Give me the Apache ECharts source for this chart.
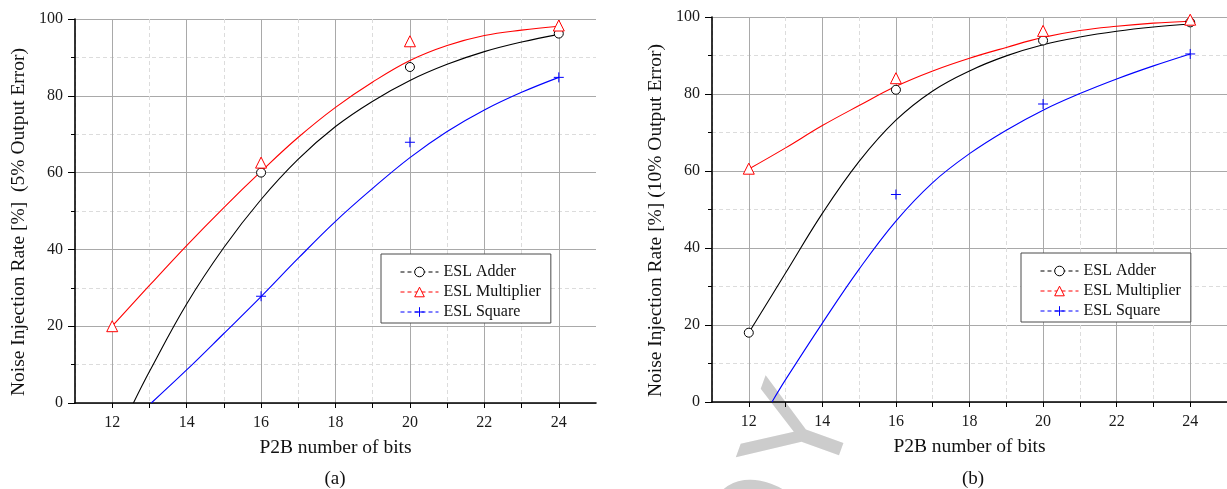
<!DOCTYPE html>
<html>
<head>
<meta charset="utf-8">
<script src="https://cdn.jsdelivr.net/npm/echarts@6/dist/echarts.min.js"></script>
<style>
  html, body { margin: 0; padding: 0; background: #ffffff; }
  #chart { width: 1227px; height: 489px; }
</style>
</head>
<body>
<div id="chart"></div>
<script>
// ---- axis ticks ----
const xTickLabels = [12, 14, 16, 18, 20, 22, 24];

// ---- (a) 5% output error: measured points ----
const adder5Bits = [16, 20, 24];
const adder5Rate = [60, 87.5, 96.2];
const mult5Bits = [12, 16, 20, 24];
const mult5Rate = [20, 62.6, 94.2, 98.3];
const square5Bits = [16, 20, 24];
const square5Rate = [27.8, 67.9, 84.8];

// ---- (a) fitted trend curves [bits, rate] ----
const adder5Fit = [[12.57, 0], [13, 8.2], [14, 25.8], [15, 40.5], [16, 53], [17, 63.5], [18, 72], [19, 78.6], [20, 84], [21, 88.2], [22, 91.5], [23, 94], [24, 96]];
const mult5Fit = [[12, 20], [13, 30.6], [14, 41], [15, 50.9], [16, 60.3], [17, 69.2], [18, 77], [19, 83.6], [20, 89.2], [21, 93.1], [22, 95.7], [23, 97.1], [24, 98.1]];
const square5Fit = [[13.05, 0], [14, 8.6], [15, 18.1], [16, 27.7], [17, 37.7], [18, 47.3], [19, 55.9], [20, 63.9], [21, 70.7], [22, 76.3], [23, 80.9], [24, 84.8]];

// ---- (b) 10% output error: measured points ----
const adder10Bits = [12, 16, 20, 24];
const adder10Rate = [18, 81.1, 93.9, 98.6];
const mult10Bits = [12, 16, 20, 24];
const mult10Rate = [60.6, 84.1, 96.4, 99.3];
const square10Bits = [16, 20, 24];
const square10Rate = [53.9, 77.4, 90.4];

// ---- (b) fitted trend curves [bits, rate] ----
const adder10Fit = [[12, 18], [13, 33.5], [14, 49], [15, 62.5], [16, 73.2], [17, 80.8], [18, 86], [19, 89.9], [20, 92.8], [21, 94.8], [22, 96.3], [23, 97.4], [24, 98.2]];
const mult10Fit = [[12, 60.5], [13, 66], [14, 71.8], [15, 77], [16, 82], [17, 86], [18, 89.3], [19, 92.1], [20, 94.7], [21, 96.5], [22, 97.6], [23, 98.4], [24, 98.9]];
const square10Fit = [[12.63, 0], [13, 5.8], [14, 20.5], [15, 34.5], [16, 47], [17, 57], [18, 64.5], [19, 70.6], [20, 75.8], [21, 80.1], [22, 83.9], [23, 87.3], [24, 90.4]];

const seriesNames = ['ESL Adder', 'ESL Multiplier', 'ESL Square'];
const serif = "'Liberation Serif', 'Times New Roman', serif";
const plusPath = 'path://M5,0L5,10M0,5L10,5';

const styles = {
  'ESL Adder':      { color: '#000000', symbol: 'circle',   size: 9 },
  'ESL Multiplier': { color: '#ff0000', symbol: 'triangle', size: 11 },
  'ESL Square':     { color: '#0000ff', symbol: plusPath,   size: 10 }
};

function zip(xs, ys) { return xs.map((x, i) => [x, ys[i]]); }

function markerSeries(name, data, xi, yi) {
  const s = styles[name];
  const isPlus = s.symbol === plusPath;
  return {
    type: 'line', name: name, data: data, xAxisIndex: xi, yAxisIndex: yi,
    symbol: s.symbol, symbolSize: s.size, showSymbol: true,
    lineStyle: { color: s.color, width: 1, opacity: 0 },
    itemStyle: { color: isPlus ? s.color : '#ffffff', borderColor: s.color, borderWidth: 1 },
    emphasis: { disabled: true }, silent: true, z: 4
  };
}

function fitSeries(name, data, xi, yi) {
  return {
    type: 'line', name: name + ' trend', data: data, xAxisIndex: xi, yAxisIndex: yi,
    smooth: 0.4, symbol: 'none',
    lineStyle: { color: styles[name].color, width: 1.1 },
    emphasis: { disabled: true }, silent: true, z: 3
  };
}

function yAxisFor(grid, title, pad) {
  return {
    type: 'value', gridIndex: grid, min: 0, max: 100, interval: 20,
    axisLine: { show: true, onZero: false, lineStyle: { color: '#000', width: 1.6 } },
    axisTick: { show: true, length: 7, lineStyle: { color: '#000', width: 1 } },
    minorTick: { show: true, splitNumber: 2, length: 4, lineStyle: { color: '#000', width: 1 } },
    splitLine: { show: true, lineStyle: { color: '#a9a9a9', width: 1 } },
    minorSplitLine: { show: true, lineStyle: { color: '#dcdcdc', width: 1, type: [4, 3] } },
    axisLabel: { margin: 12, color: '#1a1a1a', fontFamily: serif, fontSize: 16 },
    name: title, nameLocation: 'middle', nameGap: 46,
    nameTextStyle: { fontFamily: serif, fontSize: 19.5, color: '#111', padding: pad }
  };
}

function xAxesFor(grid) {
  return [
    {
      type: 'value', gridIndex: grid, position: 'bottom', min: 11, max: 25, interval: 1,
      axisLine: { show: true, onZero: false, lineStyle: { color: '#000', width: 1.6 } },
      axisTick: { show: true, length: 5, lineStyle: { color: '#000', width: 1 } },
      axisLabel: {
        margin: 12, color: '#1a1a1a', fontFamily: serif, fontSize: 16,
        showMinLabel: false, showMaxLabel: false,
        formatter: v => (xTickLabels.indexOf(v) >= 0 ? String(v) : '')
      },
      splitLine: { show: true, lineStyle: { color: ['rgba(0,0,0,0)', '#a9a9a9'], width: 1 } },
      name: 'P2B number of bits', nameLocation: 'middle', nameGap: 35,
      nameTextStyle: { fontFamily: serif, fontSize: 19.5, color: '#111' }
    },
    {
      type: 'value', gridIndex: grid, position: 'bottom', min: 11, max: 25, interval: 1,
      axisLine: { show: false },
      axisTick: { show: false },
      axisLabel: { show: false },
      splitLine: { show: true, showMaxLine: false, lineStyle: { color: ['#dcdcdc', 'rgba(0,0,0,0)'], width: 1, type: [4, 3] } }
    }
  ];
}

function legendAt(left, top) {
  return {
    data: seriesNames, orient: 'vertical', left: left, top: top, width: 168,
    padding: [10, 10, 3, 19], itemGap: 4, itemWidth: 38, itemHeight: 12,
    backgroundColor: '#ffffff', borderColor: '#4a4a4a', borderWidth: 1,
    selectedMode: false,
    lineStyle: { width: 1, type: [4, 3], opacity: 1 },
    itemStyle: { borderWidth: 1 },
    textStyle: { fontFamily: serif, fontSize: 16, color: '#111', lineHeight: 16 }
  };
}

const chart = echarts.init(document.getElementById('chart'), null, { renderer: 'canvas' });

chart.setOption({
  animation: false,
  backgroundColor: '#ffffff',
  grid: [
    { left: 75, top: 19, width: 521, height: 384 },
    { left: 712, top: 17, width: 522, height: 385 }
  ],
  xAxis: xAxesFor(0).concat(xAxesFor(1)),
  yAxis: [
    yAxisFor(0, 'Noise Injection Rate [%]  (5% Output Error)', [0, 22, 0, 0]),
    yAxisFor(1, 'Noise Injection Rate [%] (10% Output Error)', [0, 22, 0, 0])
  ],
  legend: [legendAt(381, 254), legendAt(1021, 253)],
  graphic: [
    // faint watermark letters behind the right panel
    { type: 'text', x: 805, y: 436, rotation: 70 * Math.PI / 180, z: -10,
      style: { text: 'Y', font: "140px 'Liberation Sans', sans-serif", fill: '#cccccc', align: 'center', verticalAlign: 'middle' } },
    { type: 'text', x: 764, y: 532, rotation: 70 * Math.PI / 180, z: -10,
      style: { text: 'O', font: "140px 'Liberation Sans', sans-serif", fill: '#cccccc', align: 'center', verticalAlign: 'middle' } },
    // panel captions
    { type: 'text', x: 335, y: 479, style: { text: '(a)', font: '19px ' + serif, fill: '#111', align: 'center', verticalAlign: 'middle' } },
    { type: 'text', x: 973, y: 479, style: { text: '(b)', font: '19px ' + serif, fill: '#111', align: 'center', verticalAlign: 'middle' } }
  ],
  series: [
    fitSeries('ESL Adder', adder5Fit, 0, 0),
    fitSeries('ESL Multiplier', mult5Fit, 0, 0),
    fitSeries('ESL Square', square5Fit, 0, 0),
    markerSeries('ESL Adder', zip(adder5Bits, adder5Rate), 0, 0),
    markerSeries('ESL Multiplier', zip(mult5Bits, mult5Rate), 0, 0),
    markerSeries('ESL Square', zip(square5Bits, square5Rate), 0, 0),
    fitSeries('ESL Adder', adder10Fit, 2, 1),
    fitSeries('ESL Multiplier', mult10Fit, 2, 1),
    fitSeries('ESL Square', square10Fit, 2, 1),
    markerSeries('ESL Adder', zip(adder10Bits, adder10Rate), 2, 1),
    markerSeries('ESL Multiplier', zip(mult10Bits, mult10Rate), 2, 1),
    markerSeries('ESL Square', zip(square10Bits, square10Rate), 2, 1)
  ]
});
</script>
</body>
</html>
